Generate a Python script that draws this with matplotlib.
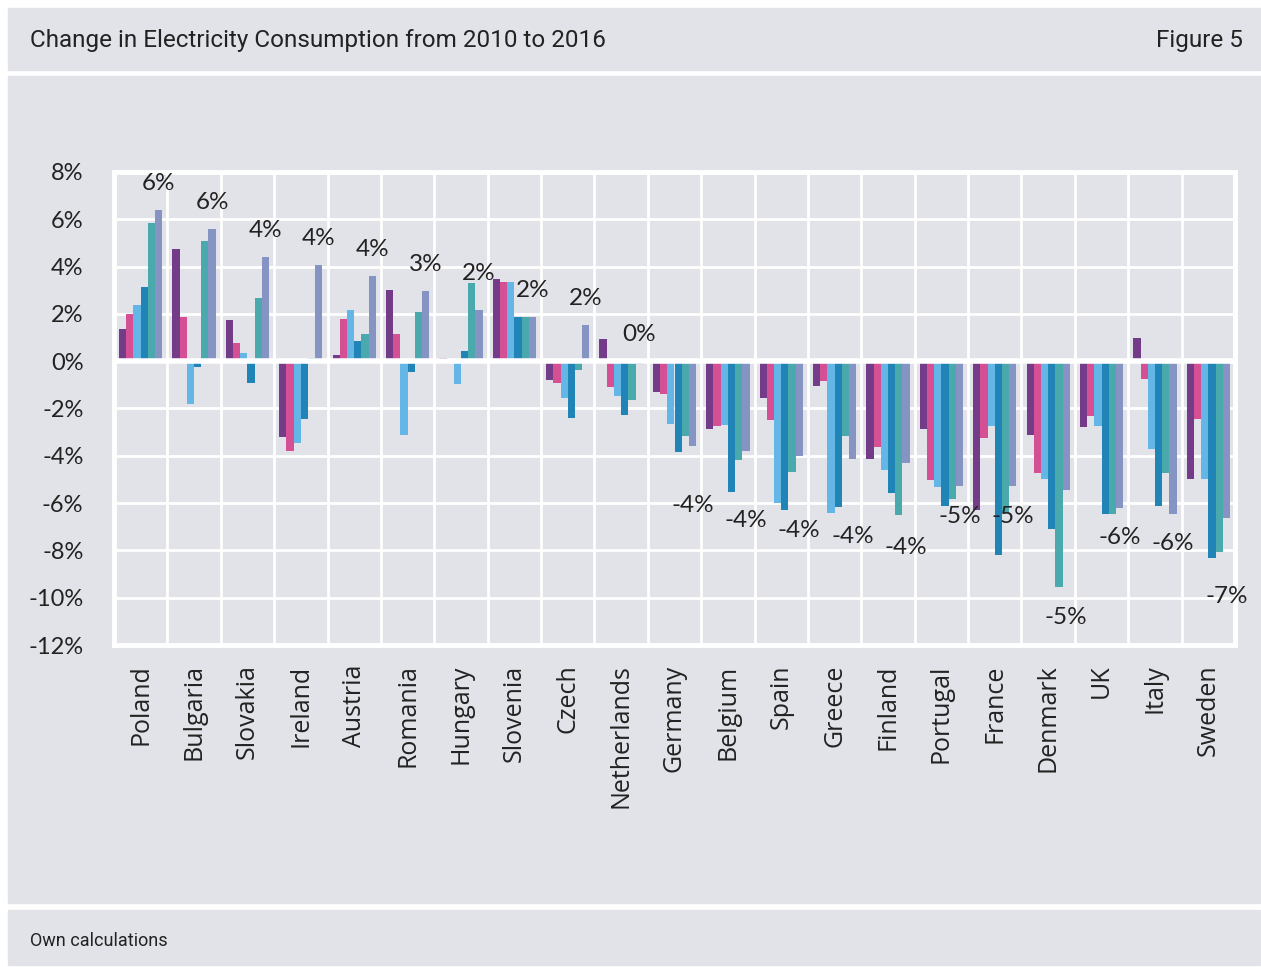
import numpy as np
import matplotlib
matplotlib.use('Agg')
from matplotlib import pyplot as plt
from matplotlib.patches import Rectangle

countries = ['Poland', 'Bulgaria', 'Slovakia', 'Ireland', 'Austria', 'Romania',
             'Hungary', 'Slovenia', 'Czech', 'Netherlands', 'Germany', 'Belgium',
             'Spain', 'Greece', 'Finland', 'Portugal', 'France', 'Denmark', 'UK',
             'Italy', 'Sweden']

# six series per country, % change 2010 -> 2016
s1 = [1.35, 4.74, 1.76, -3.21, 0.28, 3.00, 0.15, 3.48, -0.79, 0.93, -1.32, -2.88,
      -1.56, -1.04, -4.14, -2.85, -6.29, -3.10, -2.79, 1.00, -4.98]
s2 = [1.99, 1.85, 0.75, -3.78, 1.80, 1.17, 0.0, 3.34, -0.92, -1.07, -1.38, -2.72,
      -2.48, -0.82, -3.64, -5.03, -3.24, -4.72, -2.33, -0.75, -2.44]
s3 = [2.38, -1.80, 0.34, -3.44, 2.17, -3.10, -0.97, 3.34, -1.55, -1.49, -2.66, -2.68,
      -5.99, -6.41, -4.61, -5.31, -2.76, -5.00, -2.76, -3.73, -4.98]
s4 = [3.14, -0.25, -0.93, -2.44, 0.85, -0.45, 0.44, 1.85, -2.40, -2.28, -3.83, -5.53,
      -6.31, -6.17, -5.59, -6.12, -8.19, -7.09, -6.44, -6.12, -8.34]
s5 = [5.86, 5.10, 2.66, 0.15, 1.15, 2.07, 3.31, 1.85, -0.38, -1.64, -3.17, -4.17,
      -4.69, -3.17, -6.51, -5.81, -6.40, -9.53, -6.44, -4.72, -8.06]
s6 = [6.41, 5.61, 4.40, 4.05, 3.59, 2.97, 2.16, 1.85, 1.52, -0.12, -3.58, -3.81,
      -4.02, -4.14, -4.30, -5.26, -5.29, -5.43, -6.19, -6.44, -6.63]
series = [s1, s2, s3, s4, s5, s6]
colors = ['#743b88', '#d44f93', '#63b6e5', '#2085b6', '#4aa9ad', '#8594c2']

# where the rounded labels of the last series sit
label_y = [7.53, 6.72, 5.54, 5.20, 4.74, 4.10, 3.72, 3.00, 2.66, 1.14, -6.09, -6.72,
           -7.15, -7.40, -7.86, -6.55, -6.55, -10.82, -7.44, -7.70, -9.94]

yticks = list(range(-12, 9, 2))

W, H = 1261, 967
bg = '#e2e3e8'
txt = '#222222'
num_font = dict(family=['Lato', 'DejaVu Sans'])
head_font = ['Roboto', 'DejaVu Sans']

fig = plt.figure(figsize=(W / 100, H / 100), dpi=100)
fig.patch.set_facecolor('white')

def panel(y0, y1):
    fig.add_artist(Rectangle((8 / W, 1 - y1 / H), (1260 - 8) / W, (y1 - y0) / H,
                             transform=fig.transFigure, color=bg, zorder=0))

panel(8, 70)
panel(76, 903)
panel(910, 965)

fig.text(30 / W, 1 - 41 / H, 'Change in Electricity Consumption from 2010 to 2016',
         fontsize=17.5, color=txt, va='center', ha='left', family=head_font)
fig.text(1243 / W, 1 - 41 / H, 'Figure 5', fontsize=17.5, color=txt, va='center',
         ha='right', family=head_font)
fig.text(30 / W, 1 - 941 / H, 'Own calculations', fontsize=13, color=txt,
         va='center', ha='left', family=head_font)

ax = fig.add_axes([114 / W, 1 - 645 / H, (1235 - 114) / W, (645 - 172) / H])
ax.set_facecolor(bg)
ax.set_zorder(2)

x = np.arange(len(countries))
w = 0.135
for i, (vals, c) in enumerate(zip(series, colors)):
    ax.bar(x + (i - 2.5) * w, vals, w, color=c, zorder=2, linewidth=0)

ax.axhline(0, color='white', lw=4, zorder=3)

for xi, v, ly in zip(x, s6, label_y):
    ax.text(xi + 2.5 * w, ly, '%d%%' % int(round(v)), ha='center', va='center',
            fontsize=17.5, color=txt, zorder=4, **num_font)

ax.set_xlim(-0.5, len(countries) - 0.5)
ax.set_ylim(-12, 8)
ax.set_yticks(yticks)
ax.set_yticklabels(['%d%%' % t for t in yticks], fontsize=17, color=txt, **num_font)
ax.set_xticks(x)
ax.set_xticklabels(countries, rotation=90, ha='center', va='top', fontsize=18,
                   color=txt, family=['Open Sans', 'DejaVu Sans'])
ax.set_xticks(x[:-1] + 0.5, minor=True)
ax.tick_params(axis='both', which='both', length=0)
ax.tick_params(axis='y', pad=22)
ax.tick_params(axis='x', pad=14)
ax.grid(True, axis='y', which='major', color='white', lw=2, zorder=1)
ax.grid(True, axis='x', which='minor', color='white', lw=2, zorder=1)
ax.set_axisbelow(True)
for sp in ax.spines.values():
    sp.set_color('white')
    sp.set_linewidth(3.5)

plt.savefig('out.png', dpi=100, facecolor='white')
